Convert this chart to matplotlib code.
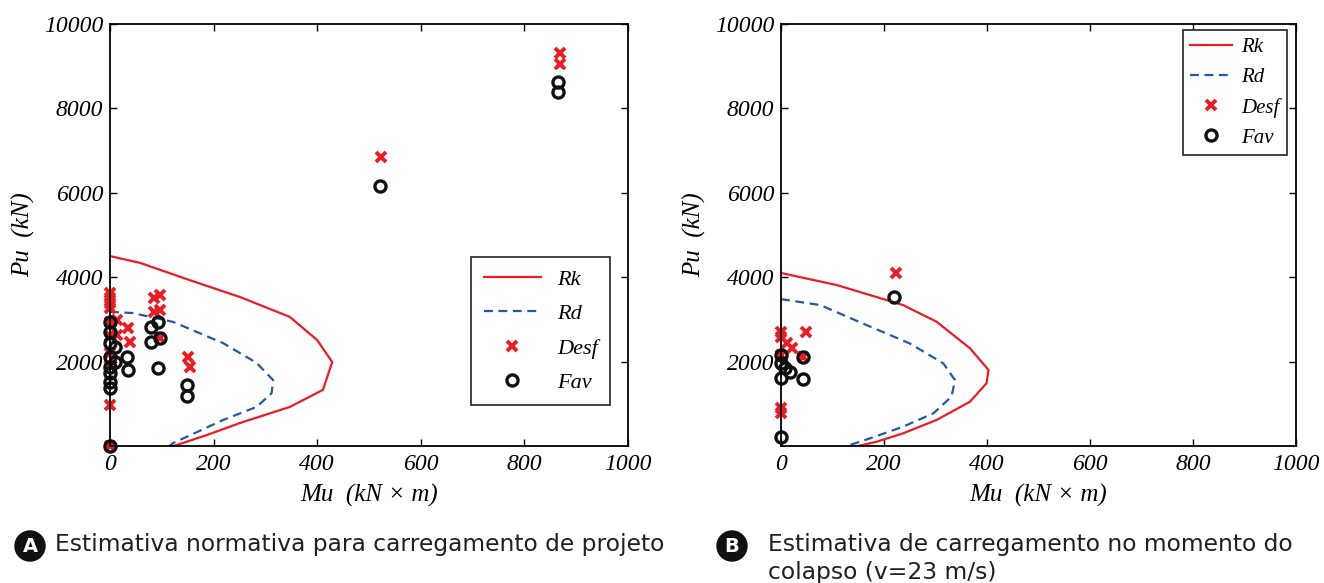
import matplotlib
matplotlib.use('Agg')
import matplotlib.pyplot as plt

# interaction curves, panel A (normative design load)
rk_a_m = [0, 58, 154, 251, 347, 400, 429, 411, 347, 251, 187, 129, 122]
rk_a_p = [4500, 4340, 3930, 3530, 3060, 2510, 1990, 1330, 925, 545, 260, 24, 0]
rd_a_m = [0, 44, 122, 218, 283, 315, 312, 283, 218, 168, 122, 115]
rd_a_p = [3180, 3150, 2940, 2440, 1970, 1560, 1250, 925, 615, 330, 70, 0]

# interaction curves, panel B (collapse, v=23 m/s)
rk_b_m = [0, 108, 237, 302, 367, 403, 399, 367, 302, 237, 186, 150]
rk_b_p = [4100, 3815, 3340, 2946, 2315, 1800, 1486, 1050, 616, 300, 102, 0]
rd_b_m = [0, 76, 173, 250, 315, 338, 331, 296, 237, 173, 128]
rd_b_p = [3480, 3340, 2830, 2430, 1960, 1560, 1170, 775, 457, 182, 0]

# column loads, panel A
desf_a_m = [0, 0, 0, 0, 0, 0, 0, 0, 0, 0, 13, 13, 35, 39, 84, 97, 84, 97, 97,
            151, 154, 523, 869, 869]
desf_a_p = [3620, 3500, 3380, 3260, 2600, 2200, 1900, 970, 0, 2950, 2980, 2630,
            2790, 2470, 3500, 3580, 3180, 3220, 2550, 2117, 1880, 6850, 9310, 9050]
fav_a_m = [0, 0, 0, 0, 0, 0, 0, 0, 0, 10, 10, 32, 35, 80, 80, 93, 97, 93, 148,
           149, 521, 865, 865]
fav_a_p = [2950, 2710, 2450, 2117, 1880, 1720, 1525, 1370, 0, 2350, 2000, 2117,
           1800, 2830, 2470, 2945, 2550, 1840, 1445, 1190, 6160, 8625, 8390]

# column loads, panel B
desf_b_m = [223, 0, 0, 11, 21, 49, 0, 0, 43, 0]
desf_b_p = [4100, 2710, 2590, 2430, 2315, 2710, 890, 780, 2117, 2156]
fav_b_m = [219, 0, 0, 8, 17, 0, 43, 42, 0]
fav_b_p = [3520, 2156, 1960, 1840, 1760, 1600, 2117, 1580, 220]

x_ticks = [0, 200, 400, 600, 800, 1000]
y_ticks = [2000, 4000, 6000, 8000, 10000]

red = '#ec1c24'
blue = '#1f5aa8'
ink = '#231f20'
serif = 'Liberation Serif'

fig = plt.figure(figsize=(13.24, 5.83), dpi=100)
ax_a = fig.add_axes([110 / 1324, 137 / 583, 518 / 1324, 422 / 583])
ax_b = fig.add_axes([781 / 1324, 137 / 583, 515 / 1324, 422 / 583])


def draw_panel(ax, rk_m, rk_p, rd_m, rd_p, d_m, d_p, f_m, f_p):
    ax.plot(rk_m, rk_p, color=red, lw=1.6, label='Rk')
    ax.plot(rd_m, rd_p, color=blue, lw=1.6, ls=(0, (4, 2.5)), label='Rd')
    ax.plot(d_m, d_p, ls='none', marker='x', color=red, ms=6.5, mew=2.8,
            label='Desf', clip_on=False)
    ax.plot(f_m, f_p, ls='none', marker='o', mfc='none', mec='#111111', ms=8,
            mew=2.4, label='Fav', clip_on=False)
    ax.set_xlim(0, 1000)
    ax.set_ylim(0, 10000)
    ax.set_xticks(x_ticks)
    ax.set_yticks(y_ticks)
    ax.tick_params(direction='in', length=5, width=1, top=True, right=True,
                   labelsize=17)
    ax.tick_params(axis='x', pad=6)
    ax.tick_params(axis='y', pad=5)
    for lab in ax.get_xticklabels() + ax.get_yticklabels():
        lab.set_family(serif)
        lab.set_style('italic')
    for sp in ax.spines.values():
        sp.set_linewidth(1.3)
    ax.set_xlabel('Mu  (kN × m)', family=serif, style='italic', fontsize=18,
                  labelpad=6)
    ax.set_ylabel('Pu  (kN)', family=serif, style='italic', fontsize=18,
                  labelpad=6)


draw_panel(ax_a, rk_a_m, rk_a_p, rd_a_m, rd_a_p,
           desf_a_m, desf_a_p, fav_a_m, fav_a_p)
draw_panel(ax_b, rk_b_m, rk_b_p, rd_b_m, rd_b_p,
           desf_b_m, desf_b_p, fav_b_m, fav_b_p)

leg_a = ax_a.legend(loc='lower right', bbox_to_anchor=(0.965, 0.097),
                    borderaxespad=0, fancybox=False, framealpha=1,
                    edgecolor='#222222', handlelength=2.6, labelspacing=0.62,
                    borderpad=0.55, handletextpad=0.7,
                    prop={'family': serif, 'style': 'italic', 'size': 16})
leg_a.get_frame().set_linewidth(1.2)

leg_b = ax_b.legend(loc='upper right', bbox_to_anchor=(0.982, 0.985),
                    borderaxespad=0, fancybox=False, framealpha=1,
                    edgecolor='#222222', handlelength=2.0, labelspacing=0.5,
                    borderpad=0.35, handletextpad=0.45,
                    prop={'family': serif, 'style': 'italic', 'size': 15})
leg_b.get_frame().set_linewidth(1.2)

# panel captions
for cx, letter in [(30, 'A'), (732, 'B')]:
    fig.text(cx / 1324, 1 - 546 / 583, letter, color='white', fontsize=14,
             family='DejaVu Sans', weight='bold', ha='center', va='center',
             bbox=dict(boxstyle='circle,pad=0.32', fc='#111111', ec='none'))

fig.text(55 / 1324, 1 - 545 / 583,
         'Estimativa normativa para carregamento de projeto',
         fontsize=16.8, family='DejaVu Sans', va='center', color=ink)
fig.text(768 / 1324, 1 - 545 / 583,
         'Estimativa de carregamento no momento do',
         fontsize=16.8, family='DejaVu Sans', va='center', color=ink)
fig.text(768 / 1324, 1 - 573 / 583, 'colapso (v=23 m/s)',
         fontsize=16.8, family='DejaVu Sans', va='center', color=ink)

fig.savefig('out.png', dpi=100)
